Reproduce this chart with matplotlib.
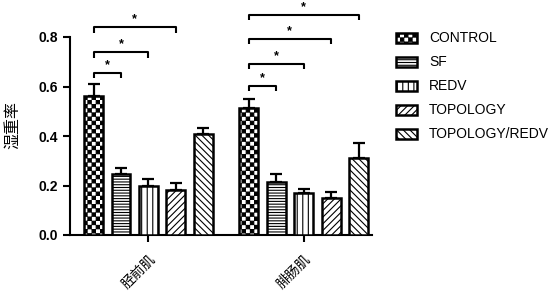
import numpy as np
import matplotlib
matplotlib.use("Agg")
import matplotlib.pyplot as plt
import matplotlib.hatch as mhatch
from matplotlib.path import Path

# ---------------- data ----------------
groups = ["胫前肌", "腓肠肌"]
series = ["CONTROL", "SF", "REDV", "TOPOLOGY", "TOPOLOGY/REDV"]
values_g1 = [0.562, 0.245, 0.200, 0.182, 0.409]
errors_g1 = [0.048, 0.025, 0.026, 0.027, 0.023]
values_g2 = [0.512, 0.213, 0.168, 0.151, 0.312]
errors_g2 = [0.039, 0.032, 0.019, 0.023, 0.058]
yticks = [0.0, 0.2, 0.4, 0.6, 0.8]
# significance brackets: (start series, end series, height)
brackets_g1 = [(0, 1, 0.655), (0, 2, 0.739), (0, 3, 0.840)]
brackets_g2 = [(0, 1, 0.602), (0, 2, 0.691), (0, 3, 0.792), (0, 4, 0.889)]

hatches = ["o", "------", "|||", "/////", "\\\\\\\\\\"]


# ---------------- custom checkerboard hatch ----------------
class CheckerHatch(mhatch.HatchPatternBase):
    def __init__(self, hatch, density):
        self.n = 24 if "o" in hatch else 0
        self.num_vertices = (self.n * self.n // 2) * 5

    def set_vertices_and_codes(self, vertices, codes):
        n = self.n
        s = 1.0 / n
        e = 0.004
        k = 0
        for i in range(n):
            for j in range(n):
                if (i + j) % 2 == 0:
                    x0, y0 = i * s + e, j * s + e
                    x1, y1 = (i + 1) * s - e, (j + 1) * s - e
                    vertices[k:k + 5] = [[x0, y0], [x1, y0], [x1, y1], [x0, y1], [x0, y0]]
                    codes[k:k + 5] = [Path.MOVETO, Path.LINETO, Path.LINETO,
                                      Path.LINETO, Path.CLOSEPOLY]
                    k += 5


mhatch._hatch_types = [mhatch.HorizontalHatch, mhatch.VerticalHatch,
                       mhatch.NorthEastHatch, mhatch.SouthEastHatch, CheckerHatch]

plt.rcParams["hatch.linewidth"] = 0.8
plt.rcParams["hatch.color"] = "black"

fig = plt.figure(figsize=(5.5, 2.91), dpi=100)
ax = fig.add_axes([70 / 550, 1 - 235 / 291, 302 / 550, 198 / 291])

group_gap = 5.64
width = 0.69
all_vals = [values_g1, values_g2]
all_errs = [errors_g1, errors_g2]
handles = []
for si, name in enumerate(series):
    xs = [gi * group_gap + si for gi in range(len(groups))]
    vals = [all_vals[gi][si] for gi in range(len(groups))]
    errs = [all_errs[gi][si] for gi in range(len(groups))]
    b = ax.bar(xs, vals, width=width, color="white", edgecolor="black",
               linewidth=1.8, hatch=hatches[si], zorder=3, label=name)
    ax.errorbar(xs, vals, yerr=[[0] * len(xs), errs], fmt="none",
                ecolor="black", elinewidth=1.6, capsize=4, capthick=1.6, zorder=2)
    handles.append(b)

# brackets
drop = 0.022
for gi, blist in enumerate([brackets_g1, brackets_g2]):
    for s0, s1, h in blist:
        x0 = gi * group_gap + s0
        x1 = gi * group_gap + s1
        ax.plot([x0, x0, x1, x1], [h - drop, h, h, h - drop], color="black",
                lw=1.5, clip_on=False, solid_capstyle="butt")
        ax.text((x0 + x1) / 2, h + 0.008, "*", ha="center", va="bottom",
                fontsize=9, fontweight="bold", family="Liberation Sans")

ax.set_xlim(-0.855, 10.13)
ax.set_ylim(0, 0.8)
ax.set_yticks(yticks)
ax.set_yticklabels([f"{v:.1f}" for v in yticks], fontsize=10,
                   fontweight="bold", family="Liberation Sans")
ax.set_xticks([gi * group_gap + 2 for gi in range(len(groups))])
ax.set_xticklabels(groups, rotation=45, ha="right", rotation_mode="anchor",
                   fontsize=10, family=["Noto Sans CJK SC", "DejaVu Sans"])
for sp in ["top", "right"]:
    ax.spines[sp].set_visible(False)
for sp in ["left", "bottom"]:
    ax.spines[sp].set_linewidth(1.5)
ax.tick_params(axis="both", width=1.5, length=5, direction="out")
ax.tick_params(axis="x", pad=7)

ax.set_ylabel("湿重率", fontsize=11.5, family=["Noto Sans CJK SC", "DejaVu Sans"])
ax.yaxis.set_label_coords(-0.163, 0.555)

fig.legend(handles=handles, labels=series, loc="upper left",
           bbox_to_anchor=(383 / 550, 1 - 19 / 291), frameon=False,
           prop={"family": "Liberation Sans", "size": 10},
           handlelength=1.55, handleheight=0.7, handletextpad=0.85,
           labelspacing=0.72)

fig.savefig("out.png", dpi=100)
